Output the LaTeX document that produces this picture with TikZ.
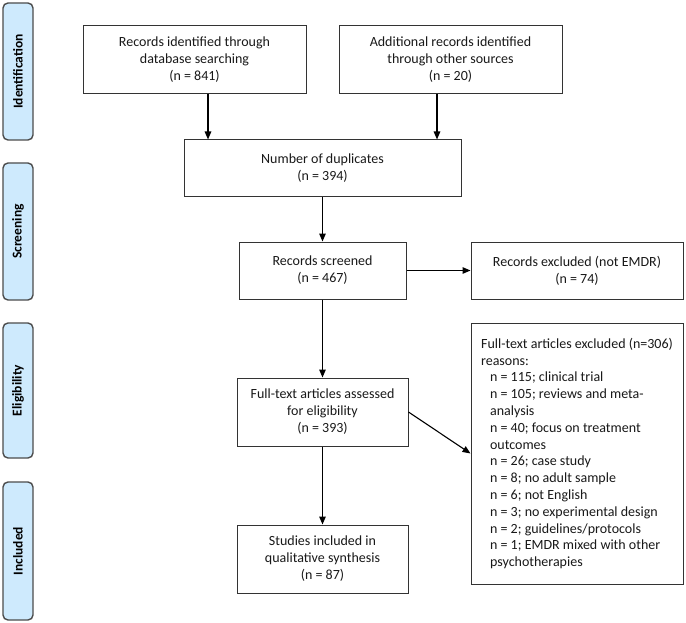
\documentclass[tikz,border=0pt]{standalone}
\usepackage{fontspec}
\setmainfont{Carlito}
\usetikzlibrary{arrows.meta}
\definecolor{phasefill}{RGB}{206,234,253}
\begin{document}
\begin{tikzpicture}[x=1pt,y=-1pt,
  box/.style={draw=black!80, line width=1pt, fill=white, align=center, inner sep=0pt,
    font=\fontsize{14}{17}\selectfont, text=black!90},
  phase/.style={draw=black!70, line width=1.4pt, rounded corners=5pt, fill=phasefill, inner sep=0pt,
    minimum width=30pt},
  phasetext/.style={rotate=90, font=\bfseries\fontsize{13.5}{16}\selectfont},
  arr/.style={line width=1.3pt, -{Triangle[length=8pt,width=6.5pt]}}]
\useasboundingbox (0,0) rectangle (686,623);
% phase labels
\node[phase, minimum height=137pt] (p1) at (18,71.5) {};
\node[phasetext] (t1) at (p1.center) {Identification};
\node[phase, minimum height=137pt] (p2) at (18,231.5) {};
\node[phasetext] (t2) at (p2.center) {Screening};
\node[phase, minimum height=135pt] (p3) at (18,390.5) {};
\node[phasetext] (t3) at (p3.center) {Eligibility};
\node[phase, minimum height=138pt] (p4) at (18,551) {};
\node[phasetext] (t4) at (p4.center) {Included};
% boxes
\node[box, minimum width=223pt, minimum height=68pt] (b1) at (194.5,60) {Records identified through\\database searching\\(n = 841)};
\node[box, minimum width=223pt, minimum height=68pt] (b2) at (450.5,60) {Additional records identified\\through other sources\\(n = 20)};
\node[box, minimum width=277pt, minimum height=57pt] (b3) at (322.5,168.5) {Number of duplicates\\(n = 394)};
\node[box, minimum width=167pt, minimum height=57pt] (b4) at (322.5,270.5) {Records screened\\(n = 467)};
\node[box, minimum width=212pt, minimum height=57pt] (b5) at (577,270.5) {Records excluded (not EMDR)\\(n = 74)};
\node[box, minimum width=171pt, minimum height=68pt] (b6) at (322.5,412) {Full-text articles assessed\\for eligibility\\(n = 393)};
\node[box, minimum width=171pt, minimum height=68pt] (b7) at (322.5,559) {Studies included in\\qualitative synthesis\\(n = 87)};
\node[box, minimum width=212pt, minimum height=261pt, align=left,
  font=\fontsize{14}{16.8}\selectfont] (b8) at (577,453.5) {Full-text articles excluded (n=306)\\
reasons:\\
\hspace*{9pt}n = 115; clinical trial\\
\hspace*{9pt}n = 105; reviews and meta-\\
\hspace*{9pt}analysis\\
\hspace*{9pt}n = 40; focus on treatment\\
\hspace*{9pt}outcomes\\
\hspace*{9pt}n = 26; case study\\
\hspace*{9pt}n = 8; no adult sample\\
\hspace*{9pt}n = 6; not English\\
\hspace*{9pt}n = 3; no experimental design\\
\hspace*{9pt}n = 2; guidelines/protocols\\
\hspace*{9pt}n = 1; EMDR mixed with other\\
\hspace*{9pt}psychotherapies};
% arrows
\draw[arr] ([xshift=13.5pt]b1.south) -- ([xshift=13.5pt]b1.south |- b3.north);
\draw[arr] ([xshift=-13.5pt]b2.south) -- ([xshift=-13.5pt]b2.south |- b3.north);
\draw[arr] (b3.south) -- (b4.north);
\draw[arr] (b4.east) -- (b5.west);
\draw[arr] (b4.south) -- (b6.north);
\draw[arr] (b6.south) -- (b7.north);
\draw[arr, line width=1.1pt] (b6.east) -- (b8.west);
\end{tikzpicture}
\end{document}
